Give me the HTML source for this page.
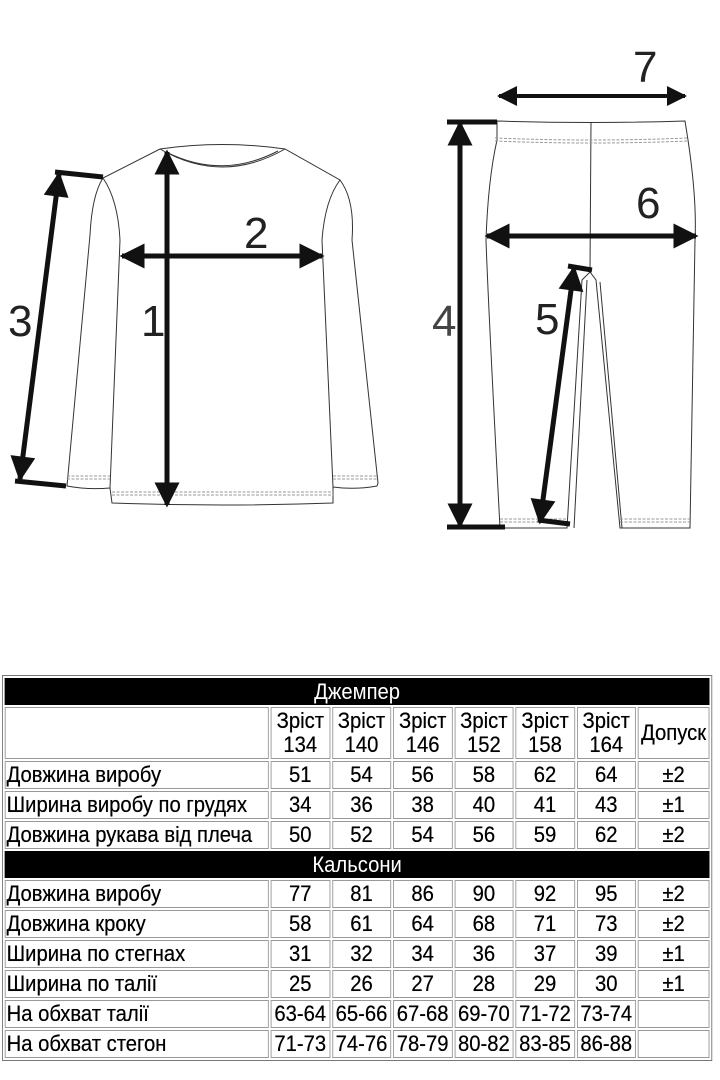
<!DOCTYPE html>
<html><head><meta charset="utf-8"><style>
body{margin:0;width:720px;height:1080px;background:#fff;position:relative;overflow:hidden;font-family:"Liberation Sans",Arial,sans-serif}
svg{position:absolute;left:0;top:0}
table{position:absolute;left:2px;top:675px;width:772px;transform:scaleX(0.92);transform-origin:0 0;border-collapse:separate;border-spacing:2px;table-layout:fixed;border:1px solid #777;font-size:22px;color:#000;text-shadow:0 0 0.4px #000}
td{border:1px solid #999;padding:0 1px;height:26px;text-align:center;white-space:nowrap;line-height:24px;overflow:hidden}
td.l{text-align:left}
td.t{background:#000;color:#fff;border-color:#000;height:25px;text-shadow:none}
tr.h td{height:50px;line-height:24px}
</style></head><body>
<svg width="720" height="670" viewBox="0 0 720 670">
<defs><marker id="a" viewBox="0 0 10 10" refX="9" refY="5" markerWidth="5.6" markerHeight="5" orient="auto-start-reverse" markerUnits="strokeWidth"><path d="M0,0L10,5L0,10z" fill="#111"/></marker></defs>
<g fill="none" stroke="#333" stroke-width="1">
<path d="M160,149 Q222,140 285,149 L340,180 Q355,200 352,240 L378,483 L377,486 Q355,490 333,487 L333,503 Q222,507 112,503 L110,488 Q88,490 67,486 L90,235 Q92,195 103,178 Z"/>
<path d="M160,149 Q222,185 285,149"/><path d="M166,152 Q222,180 278,151"/>
<path d="M120,240 L110,488"/><path d="M322,240 L333,487"/>
<path d="M103,178 Q118,200 120,240"/><path d="M340,180 Q325,200 322,240"/>
<path d="M112,492 L333,492 M112,495 L333,495 M67,476 L110,476 M67,479 L110,479 M333,476 L378,476 M333,479 L378,479" stroke-dasharray="3,1.5" stroke="#999"/>
<path d="M497,121 Q591,124 685,121 L688,140 Q697,200 695,240 L690,528 L620,528 L596,280 L590,272 L582,280 L567,528 L500,528 Q488,300 486,240 Q488,180 497,140 Z"/>
<path d="M591,122 L590,270"/><path d="M587,280 L574,528"/><path d="M600,282 L622,528"/>
<path d="M495,138 Q591,142 688,138 M495,141 Q591,145 688,141 M500,519 L567,519 M500,522 L567,522 M620,519 L690,519 M620,522 L690,522" stroke-dasharray="3,1.5" stroke="#999"/>
</g>
<g stroke="#111" stroke-width="5" fill="none" stroke-linecap="butt">
<line x1="167" y1="152" x2="167" y2="505" marker-start="url(#a)" marker-end="url(#a)"/>
<line x1="122" y1="256" x2="322" y2="256" marker-start="url(#a)" marker-end="url(#a)"/>
<line x1="59" y1="174" x2="20" y2="479" marker-start="url(#a)" marker-end="url(#a)"/>
<line x1="55" y1="172" x2="103" y2="177"/><line x1="15" y1="481" x2="66" y2="486"/>
<line x1="499" y1="96" x2="685" y2="96" marker-start="url(#a)" marker-end="url(#a)" stroke-width="4"/>
<line x1="460" y1="123" x2="460" y2="526" marker-start="url(#a)" marker-end="url(#a)"/>
<line x1="447" y1="122" x2="497" y2="122"/><line x1="447" y1="527" x2="505" y2="527"/>
<line x1="487" y1="236" x2="696" y2="236" marker-start="url(#a)" marker-end="url(#a)"/>
<line x1="574" y1="268" x2="540" y2="522" marker-start="url(#a)" marker-end="url(#a)"/>
<line x1="568" y1="266" x2="592" y2="270"/><line x1="538" y1="520" x2="570" y2="524"/>
</g>
<g font-family="Liberation Sans,sans-serif" font-size="44" fill="#222">
<text x="141" y="336">1</text><text x="244" y="248">2</text><text x="8" y="336">3</text>
<text x="432" y="336" fill="#444">4</text><text x="535" y="334">5</text><text x="636" y="218">6</text><text x="633" y="82">7</text>
</g>
</svg>
<table>
<colgroup><col style="width:287px"><col><col><col><col><col><col><col style="width:78px"></colgroup>
<tr><td class="t" colspan="8">Джемпер</td></tr>
<tr class="h"><td></td><td>Зріст<br>134</td><td>Зріст<br>140</td><td>Зріст<br>146</td><td>Зріст<br>152</td><td>Зріст<br>158</td><td>Зріст<br>164</td><td>Допуск</td></tr>
<tr><td class="l">Довжина виробу</td><td>51</td><td>54</td><td>56</td><td>58</td><td>62</td><td>64</td><td>±2</td></tr>
<tr><td class="l">Ширина виробу по грудях</td><td>34</td><td>36</td><td>38</td><td>40</td><td>41</td><td>43</td><td>±1</td></tr>
<tr><td class="l">Довжина рукава від плеча</td><td>50</td><td>52</td><td>54</td><td>56</td><td>59</td><td>62</td><td>±2</td></tr>
<tr><td class="t" colspan="8">Кальсони</td></tr>
<tr><td class="l">Довжина виробу</td><td>77</td><td>81</td><td>86</td><td>90</td><td>92</td><td>95</td><td>±2</td></tr>
<tr><td class="l">Довжина кроку</td><td>58</td><td>61</td><td>64</td><td>68</td><td>71</td><td>73</td><td>±2</td></tr>
<tr><td class="l">Ширина по стегнах</td><td>31</td><td>32</td><td>34</td><td>36</td><td>37</td><td>39</td><td>±1</td></tr>
<tr><td class="l">Ширина по талії</td><td>25</td><td>26</td><td>27</td><td>28</td><td>29</td><td>30</td><td>±1</td></tr>
<tr><td class="l">На обхват талії</td><td>63-64</td><td>65-66</td><td>67-68</td><td>69-70</td><td>71-72</td><td>73-74</td><td></td></tr>
<tr><td class="l">На обхват стегон</td><td>71-73</td><td>74-76</td><td>78-79</td><td>80-82</td><td>83-85</td><td>86-88</td><td></td></tr>
</table>
</body></html>
